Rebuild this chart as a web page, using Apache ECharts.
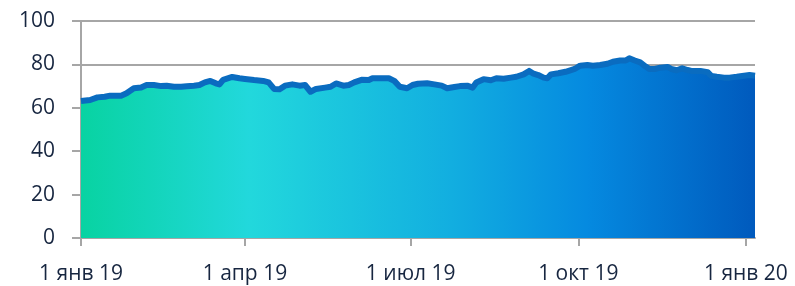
<!DOCTYPE html>
<html>
<head>
<meta charset="utf-8">
<script src="https://cdn.jsdelivr.net/npm/echarts@6/dist/echarts.min.js"></script>
<style>
html, body { margin: 0; padding: 0; background: #fff; }
#chart { width: 795px; height: 286px; }
</style>
</head>
<body>
<div id="chart"></div>
<script>
// даты и значения
var dates = [
  '2019-01-01','2019-01-06','2019-01-10','2019-01-14','2019-01-17','2019-01-23','2019-01-26','2019-01-30',
  '2019-02-03','2019-02-06','2019-02-10','2019-02-14','2019-02-17','2019-02-21','2019-02-25','2019-02-28',
  '2019-03-04','2019-03-07','2019-03-10','2019-03-13','2019-03-16','2019-03-18','2019-03-20','2019-03-25','2019-03-29',
  '2019-04-01','2019-04-06','2019-04-11','2019-04-14','2019-04-17','2019-04-20','2019-04-23','2019-04-27',
  '2019-05-01','2019-05-04','2019-05-07','2019-05-10','2019-05-15','2019-05-18','2019-05-21','2019-05-25','2019-05-28','2019-05-31',
  '2019-06-04','2019-06-08','2019-06-10','2019-06-15','2019-06-19','2019-06-22','2019-06-25','2019-06-29',
  '2019-07-02','2019-07-05','2019-07-10','2019-07-14','2019-07-18','2019-07-21','2019-07-25','2019-07-28',
  '2019-08-01','2019-08-04','2019-08-06','2019-08-10','2019-08-14','2019-08-17','2019-08-21','2019-08-25','2019-08-28',
  '2019-09-01','2019-09-04','2019-09-06','2019-09-09','2019-09-12','2019-09-14','2019-09-16','2019-09-20','2019-09-24','2019-09-27','2019-09-29',
  '2019-10-02','2019-10-06','2019-10-09','2019-10-13','2019-10-17','2019-10-20','2019-10-24','2019-10-27','2019-10-29',
  '2019-11-01','2019-11-04','2019-11-07','2019-11-09','2019-11-12','2019-11-15','2019-11-19','2019-11-21','2019-11-24','2019-11-27','2019-11-30',
  '2019-12-02','2019-12-07','2019-12-11','2019-12-13','2019-12-16','2019-12-20','2019-12-23','2019-12-27','2019-12-31',
  '2020-01-03','2020-01-06'
];
var values = [
  63.1,63.6,64.8,65.1,65.6,65.6,66.7,69.0,
  69.4,70.5,70.5,70.0,70.2,69.7,69.7,69.9,
  70.2,70.5,71.7,72.4,71.3,70.8,72.9,74.2,73.6,
  73.3,72.8,72.4,71.7,68.7,68.5,70.2,70.8,
  70.2,70.5,67.4,68.7,69.3,69.7,71.2,70.2,70.5,71.7,
  72.9,72.8,73.6,73.6,73.6,72.4,69.7,69.0,
  70.5,71.1,71.3,70.8,70.2,69.0,69.6,70.0,
  70.2,69.3,71.7,73.2,72.7,73.6,73.4,73.9,74.3,
  75.4,77.0,75.9,75.1,73.9,73.6,75.4,75.9,76.6,77.4,77.9,
  79.4,79.7,79.4,79.7,80.3,81.2,81.8,81.8,82.8,
  81.8,80.9,79.0,77.9,77.9,78.5,78.8,77.9,77.3,78.2,77.4,
  77.0,77.0,76.4,74.7,74.3,73.9,73.9,74.3,74.8,
  75.1,74.8
];
var tickDates = ['2019-01-01','2019-04-01','2019-07-01','2019-10-01','2020-01-01'];
var monthNames = ['янв','фев','мар','апр','май','июн','июл','авг','сен','окт','ноя','дек'];

var textColor = '#172640';
var gridColor = '#a6a6a6';

function toTime(d) { return Date.UTC(+d.slice(0, 4), +d.slice(5, 7) - 1, +d.slice(8, 10)); }

var chart = echarts.init(document.getElementById('chart'));
var tickTimes = tickDates.map(toTime);

chart.setOption({
  animation: false,
  grid: { left: 81, right: 40, top: 21, bottom: 48 },
  xAxis: {
    type: 'value',
    min: toTime('2019-01-01'),
    max: toTime('2020-01-06'),
    axisLine: { lineStyle: { color: gridColor, width: 2 } },
    axisTick: { show: true, length: 8, lineStyle: { color: gridColor, width: 2 }, customValues: tickTimes },
    splitLine: { show: false },
    axisLabel: {
      customValues: tickTimes,
      margin: 26,
      color: textColor,
      fontFamily: 'Open Sans',
      fontSize: 21,
      formatter: function (v) {
        var d = new Date(v);
        return d.getUTCDate() + ' ' + monthNames[d.getUTCMonth()] + ' ' + String(d.getUTCFullYear()).slice(2);
      }
    }
  },
  yAxis: {
    type: 'value',
    min: 0,
    max: 100,
    interval: 20,
    axisLine: { show: true, lineStyle: { color: gridColor, width: 2 } },
    axisTick: { show: true, length: 9, lineStyle: { color: gridColor, width: 2 } },
    splitLine: { lineStyle: { color: gridColor, width: 2 } },
    axisLabel: { margin: 26, color: textColor, fontFamily: 'Open Sans', fontSize: 21 }
  },
  series: [{
    type: 'line',
    data: dates.map(function (d, i) { return [toTime(d), values[i]]; }),
    showSymbol: false,
    lineStyle: { color: '#0a6cc0', width: 6, join: 'round' },
    areaStyle: {
      opacity: 1,
      color: new echarts.graphic.LinearGradient(0, 0, 1, 0, [
        { offset: 0, color: '#08d3a2' },
        { offset: 0.25, color: '#22d8dc' },
        { offset: 0.55, color: '#12aee0' },
        { offset: 0.75, color: '#058ae0' },
        { offset: 1, color: '#005abd' }
      ])
    }
  }]
});
</script>
</body>
</html>
